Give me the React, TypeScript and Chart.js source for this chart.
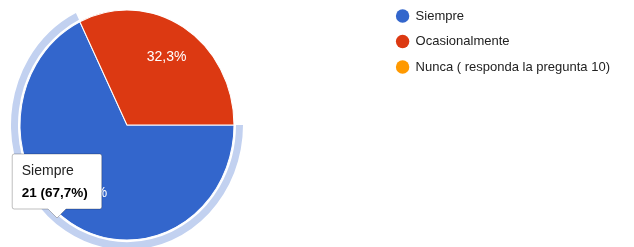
import React, { useEffect, useRef } from 'react';
import { Chart, registerables, Tooltip } from 'chart.js';

Chart.register(...registerables);

// ---- data ----
const categories = ['Siempre', 'Ocasionalmente', 'Nunca ( responda la pregunta 10)'];
const counts = [21, 10, 0];
const sliceColors = ['#3366cc', '#dc3912', '#ff9900'];
const selectedIndex = 0;
const highlightColor = '#c2d1f0';

// ---- layout constants ----
const FONT = "'Liberation Sans', Arial, sans-serif";
const PIE_R = 107;
const GAP = 2;
const RING = 7;
const OUTER = PIE_R + GAP + RING;
const CX = 127;
const CY = 125;
const SY = 115 / 107; // vertical stretch of the pie in the reference
const TIP = { x: 57, y: 218 };

(Tooltip.positioners as any).fixedTip = () => ({ x: TIP.x, y: TIP.y });

const total = counts.reduce((a, b) => a + b, 0);
const fmtPct = (v: number) => ((v / total) * 100).toFixed(1).replace('.', ',') + '%';

const pieArea = {
  id: 'pieArea',
  afterLayout(chart: any) {
    const half = OUTER + 2;
    chart.chartArea = {
      left: CX - half,
      right: CX + half,
      top: CY - half,
      bottom: CY + half,
      width: half * 2,
      height: half * 2,
    };
  },
};

const pieStretch = {
  id: 'pieStretch',
  beforeDatasetsDraw(chart: any) {
    const ctx = chart.ctx;
    ctx.save();
    ctx.translate(CX, CY);
    ctx.scale(1, SY);
    ctx.translate(-CX, -CY);
  },
  afterDatasetsDraw(chart: any) {
    chart.ctx.restore();
  },
};

const sliceLabels = {
  id: 'sliceLabels',
  afterDatasetsDraw(chart: any) {
    const meta = chart.getDatasetMeta(2);
    const ctx = chart.ctx;
    ctx.save();
    ctx.font = `14px ${FONT}`;
    ctx.fillStyle = '#ffffff';
    ctx.textAlign = 'center';
    ctx.textBaseline = 'middle';
    meta.data.forEach((arc: any, i: number) => {
      if (!counts[i]) return;
      const { x, y, startAngle, endAngle, outerRadius } = arc.getProps(
        ['x', 'y', 'startAngle', 'endAngle', 'outerRadius'],
        true
      );
      const mid = (startAngle + endAngle) / 2;
      const r = outerRadius * 0.7;
      ctx.fillText(fmtPct(counts[i]), x + Math.cos(mid) * r, y + Math.sin(mid) * r * SY);
    });
    ctx.restore();
  },
};

export default function App() {
  const ref = useRef<HTMLCanvasElement | null>(null);

  useEffect(() => {
    if (!ref.current) return;
    Chart.defaults.font.family = FONT;
    const chart = new Chart(ref.current, {
      type: 'pie',
      data: {
        labels: categories,
        datasets: [
          {
            data: counts,
            backgroundColor: counts.map((_, i) => (i === selectedIndex ? highlightColor : 'rgba(0,0,0,0)')),
            borderWidth: 0,
            weight: RING,
            radius: OUTER,
            rotation: 90,
          } as any,
          {
            data: counts,
            backgroundColor: 'rgba(0,0,0,0)',
            borderWidth: 0,
            weight: GAP,
            radius: OUTER,
            rotation: 90,
          } as any,
          {
            data: counts,
            backgroundColor: sliceColors,
            borderColor: '#ffffff',
            borderWidth: 1,
            weight: PIE_R,
            radius: OUTER,
            rotation: 90,
          } as any,
        ],
      },
      options: {
        responsive: false,
        animation: false,
        events: [],
        rotation: 90,
        layout: { padding: { top: -3, right: 14, left: 0, bottom: 0 } },
        plugins: {
          legend: {
            position: 'right',
            align: 'start',
            onClick: () => {},
            labels: {
              usePointStyle: true,
              pointStyle: 'circle',
              boxWidth: 13,
              boxHeight: 9.5,
              padding: 12.5,
              color: '#222222',
              font: { family: FONT, size: 13 },
              generateLabels: () =>
                categories.map((text, i) => ({
                  text,
                  fillStyle: sliceColors[i],
                  strokeStyle: sliceColors[i],
                  fontColor: '#222222',
                  lineWidth: 0,
                  pointStyle: 'circle',
                  hidden: false,
                  index: i,
                  datasetIndex: 2,
                })),
            },
          },
          tooltip: {
            enabled: true,
            animation: false,
            position: 'fixedTip' as any,
            xAlign: 'center',
            yAlign: 'bottom',
            backgroundColor: '#ffffff',
            borderColor: 'rgba(0,0,0,0.25)',
            borderWidth: 1,
            cornerRadius: 2,
            caretSize: 9,
            caretPadding: 0,
            displayColors: false,
            padding: { top: 9, bottom: 8, left: 9.5, right: 14 },
            titleColor: '#222222',
            bodyColor: '#000000',
            titleFont: { family: FONT, size: 14, weight: 'normal' },
            bodyFont: { family: FONT, size: 13.5, weight: 'bold' },
            titleMarginBottom: 5,
            callbacks: {
              title: (items: any[]) => categories[items[0].dataIndex],
              label: (item: any) => `${counts[item.dataIndex]} (${fmtPct(counts[item.dataIndex])})`,
            },
          },
        },
      } as any,
      plugins: [pieArea, pieStretch, sliceLabels],
    });
    chart.tooltip?.setActiveElements([{ datasetIndex: 2, index: selectedIndex }], { x: TIP.x, y: TIP.y });
    chart.update();
    return () => chart.destroy();
  }, []);

  return (
    <div style={{ position: 'fixed', left: 0, top: 0, width: 634, height: 247, background: '#fff' }}>
      <canvas ref={ref} width={634} height={247} />
    </div>
  );
}
